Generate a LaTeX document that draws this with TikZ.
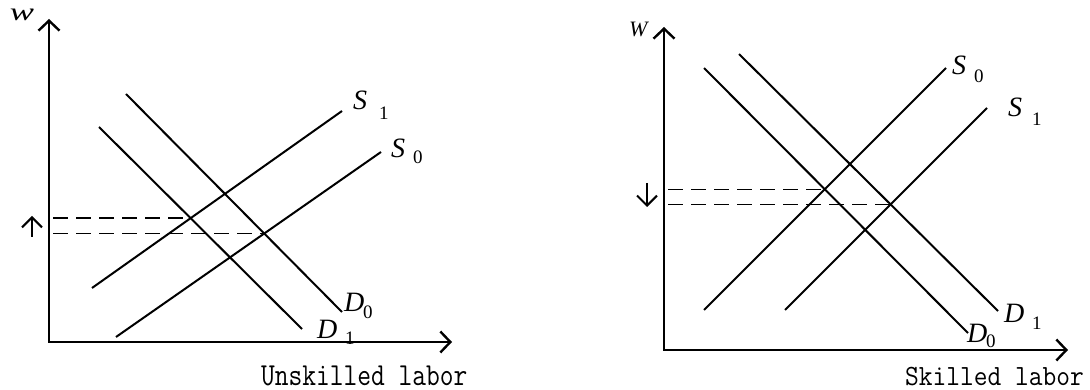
\documentclass[tikz,border=0pt]{standalone}
\usepackage{fontspec}
\setmainfont{Liberation Serif}
\usetikzlibrary{arrows.meta,intersections}
\tikzset{
  x=1pt,y=-1pt,
  axis/.style={line width=2.4pt, line join=miter, {Straight Barb[length=10pt,width=21pt]}-{Straight Barb[length=10pt,width=21pt]}},
  curve/.style={line width=2pt},
  guide/.style={line width=1.4pt, dash pattern=on 15pt off 8pt},
  marker/.style={line width=2pt, -{Straight Barb[length=10pt,width=20pt]}},
  lbl/.style={inner sep=0pt, anchor=base west, font=\fontsize{28}{28}\selectfont\itshape},
  sublbl/.style={inner sep=0pt, anchor=base west, font=\fontsize{19}{19}\selectfont},
  axtext/.style={inner sep=0pt, anchor=base west, font=\fontsize{26.7}{26.7}\selectfont\ttfamily},
}
\begin{document}
\begin{tikzpicture}
\useasboundingbox (0,0) rectangle (1090,390);

% ---------------- Left panel: unskilled labor ----------------
\coordinate (oL) at (49,342);
\coordinate (yL) at (49,19);
\coordinate (xL) at (452,342);
\coordinate (aL) at (53,0);
\draw[axis] (yL) -- (oL) -- (xL);

\coordinate (s1La) at (92,288);  \coordinate (s1Lb) at (342,111);
\coordinate (s0La) at (116,337); \coordinate (s0Lb) at (381,152);
\coordinate (d0La) at (126,94);  \coordinate (d0Lb) at (342,312);
\coordinate (d1La) at (99,127);  \coordinate (d1Lb) at (302,329);
\draw[curve, name path=S1L] (s1La) -- (s1Lb);
\draw[curve, name path=S0L] (s0La) -- (s0Lb);
\draw[curve, name path=D0L] (d0La) -- (d0Lb);
\draw[curve, name path=D1L] (d1La) -- (d1Lb);
\path[name intersections={of=S1L and D1L, by=eL1}];
\path[name intersections={of=S0L and D0L, by=eL0}];
\draw[guide] (eL1 -| aL) -- (eL1);
\draw[guide] (eL0 -| aL) -- (eL0);

\coordinate (upA) at (32,237); \coordinate (upB) at (32,216);
\draw[marker] (upA) -- (upB);

\node[inner sep=0pt, anchor=base, font=\fontsize{25}{25}\selectfont\itshape] (wL) at (22,21) {\scalebox{1.45}[1]{w}};
\node[lbl] (S1Ltxt) at (353,110) {S};
\node[sublbl] (S1Lsub) at (379,120) {1};
\node[lbl] (S0Ltxt) at (391,158) {S};
\node[sublbl] (S0Lsub) at (413,164) {0};
\node[lbl] (D0Ltxt) at (344,312) {D};
\node[sublbl] (D0Lsub) at (363,318) {0};
\node[lbl] (D1Ltxt) at (317,338) {D};
\node[sublbl] (D1Lsub) at (345,344) {1};
\node[axtext] (xLtxt) at (261,385) {\scalebox{1}[1.2]{Unskilled labor}};

% ---------------- Right panel: skilled labor ----------------
\coordinate (oR) at (664,350);
\coordinate (yR) at (664,27);
\coordinate (xR) at (1068,350);
\coordinate (aR) at (668,0);
\draw[axis] (yR) -- (oR) -- (xR);

\coordinate (s0Ra) at (704,310); \coordinate (s0Rb) at (946,68);
\coordinate (s1Ra) at (785,310); \coordinate (s1Rb) at (987,108);
\coordinate (d0Ra) at (704,68);  \coordinate (d0Rb) at (968,333);
\coordinate (d1Ra) at (739,54);  \coordinate (d1Rb) at (998,311);
\draw[curve, name path=S0R] (s0Ra) -- (s0Rb);
\draw[curve, name path=S1R] (s1Ra) -- (s1Rb);
\draw[curve, name path=D0R] (d0Ra) -- (d0Rb);
\draw[curve, name path=D1R] (d1Ra) -- (d1Rb);
\path[name intersections={of=S0R and D0R, by=eR0}];
\path[name intersections={of=S1R and D1R, by=eR1}];
\draw[guide] (eR0 -| aR) -- (eR0);
\draw[guide] (eR1 -| aR) -- (eR1);

\coordinate (dnA) at (647,183); \coordinate (dnB) at (647,207);
\draw[marker] (dnA) -- (dnB);

\node[inner sep=0pt, anchor=base west, font=\fontsize{22}{22}\selectfont\itshape] (WR) at (629,37) {W};
\node[lbl] (S0Rtxt) at (952,75) {S};
\node[sublbl] (S0Rsub) at (974,83) {0};
\node[lbl] (S1Rtxt) at (1008,117) {S};
\node[sublbl] (S1Rsub) at (1032,126) {1};
\node[lbl] (D1Rtxt) at (1004,322) {D};
\node[sublbl] (D1Rsub) at (1032,329) {1};
\node[lbl] (D0Rtxt) at (967,342) {D};
\node[sublbl] (D0Rsub) at (986,347) {0};
\node[axtext] (xRtxt) at (905,385) {\scalebox{1}[1.1]{Skilled labor}};
\end{tikzpicture}
\end{document}
